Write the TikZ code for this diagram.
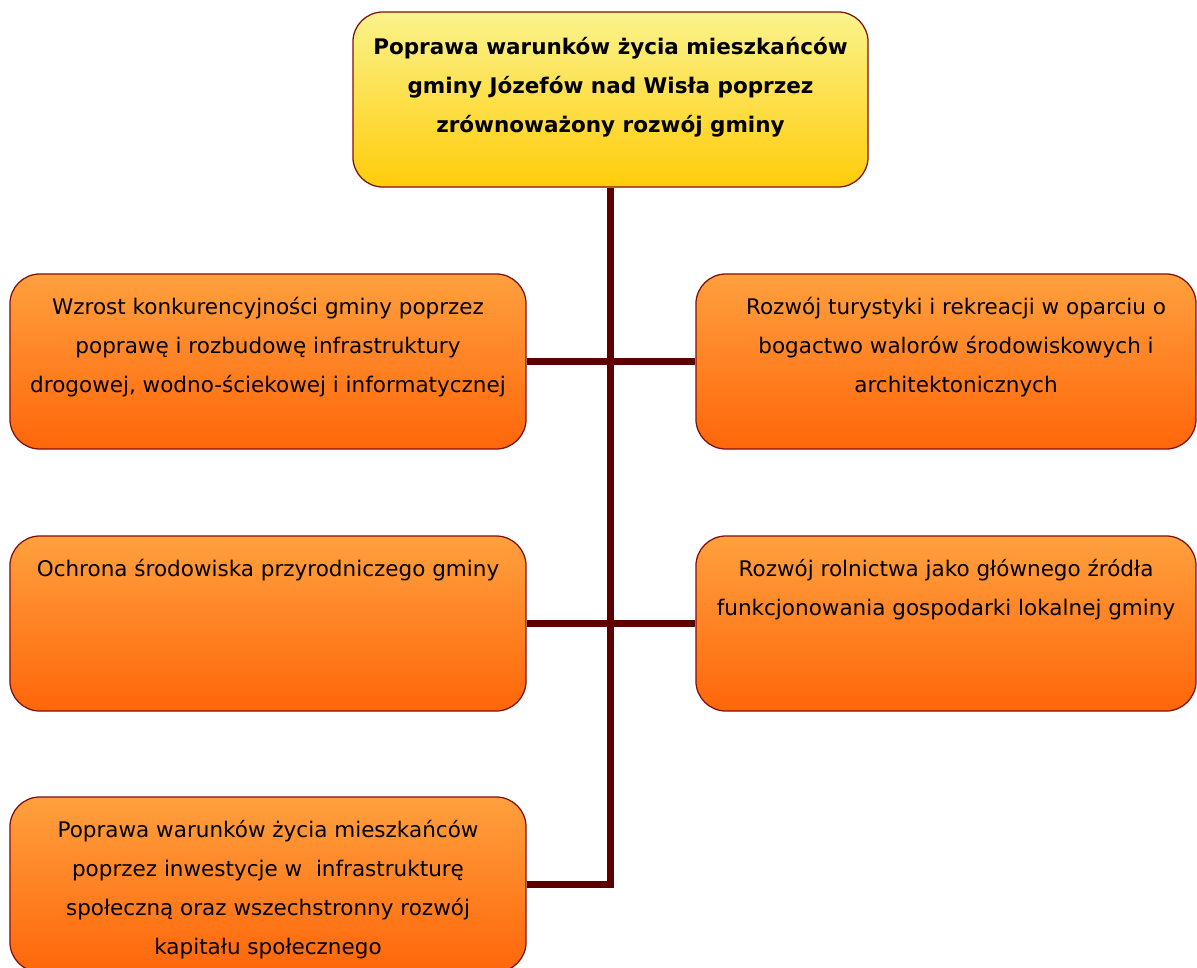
\documentclass[tikz,border=0pt]{standalone}
\usepackage{fontspec}
\setmainfont{DejaVu Sans}
\usepackage{xcolor}
\usetikzlibrary{positioning}

\definecolor{edgered}{RGB}{128,16,16}
\definecolor{linkred}{RGB}{92,0,0}
\definecolor{goaltop}{RGB}{250,243,140}
\definecolor{goalbot}{RGB}{255,204,10}
\definecolor{aimtop}{RGB}{255,160,62}
\definecolor{aimbot}{RGB}{255,102,10}

\begin{document}
\begin{tikzpicture}[x=0.025cm, y=-0.025cm]
    \tikzstyle{base} = [rectangle, rounded corners=0.75cm, draw=edgered, line width=0.9pt, minimum height=4.375cm]
    \tikzstyle{goal} = [base, minimum width=12.875cm, top color=goaltop, bottom color=goalbot]
    \tikzstyle{aimleft} = [base, minimum width=12.9cm, top color=aimtop, bottom color=aimbot]
    \tikzstyle{aimright} = [base, minimum width=12.5cm, top color=aimtop, bottom color=aimbot]
    \tikzstyle{boxtext} = [align=center, inner sep=0pt, font=\fontsize{15.3}{27.7}\selectfont]
    \tikzstyle{link} = [draw=linkred, line width=4.3pt]

    \useasboundingbox (0,0) rectangle (1197,967);

    % boxes
    \node (main) [goal] at (610.5,99.5) {};
    \node (infra) [aimleft] at (268,361.5) {};
    \node (tourism) [aimright] at (946,361.5) {};
    \node (nature) [aimleft] at (268,623.5) {};
    \node (farming) [aimright] at (946,623.5) {};
    \node (social) [aimleft] at (268,884.5) {};

    % connectors
    \draw [link] (infra.east) -- (tourism.west);
    \draw [link] (nature.east) -- (farming.west);
    \draw [link] (main.south) |- (social.east);

    % texts
    \node (maintxt) [boxtext, font=\fontsize{15.3}{27.5}\selectfont\bfseries, below=0.4cm of main.north] {\strut Poprawa warunków życia mieszkańców\\gminy Józefów nad Wisła poprzez\\zrównoważony rozwój gminy};
    \node (infratxt) [boxtext, below=0.34cm of infra.north] {\strut Wzrost konkurencyjności gminy poprzez\\poprawę i rozbudowę infrastruktury\\drogowej, wodno-ściekowej i informatycznej};
    \node (tourismtxt) [boxtext, below=0.34cm of tourism.north, xshift=0.25cm] {\strut Rozwój turystyki i rekreacji w oparciu o\\bogactwo walorów środowiskowych i\\architektonicznych};
    \node (naturetxt) [boxtext, below=0.34cm of nature.north] {\strut Ochrona środowiska przyrodniczego gminy};
    \node (farmingtxt) [boxtext, below=0.34cm of farming.north] {\strut Rozwój rolnictwa jako głównego źródła\\funkcjonowania gospodarki lokalnej gminy};
    \node (socialtxt) [boxtext, below=0.34cm of social.north] {\strut Poprawa warunków życia mieszkańców\\poprzez inwestycje w~ infrastrukturę\\społeczną oraz wszechstronny rozwój\\kapitału społecznego};
\end{tikzpicture}
\end{document}
